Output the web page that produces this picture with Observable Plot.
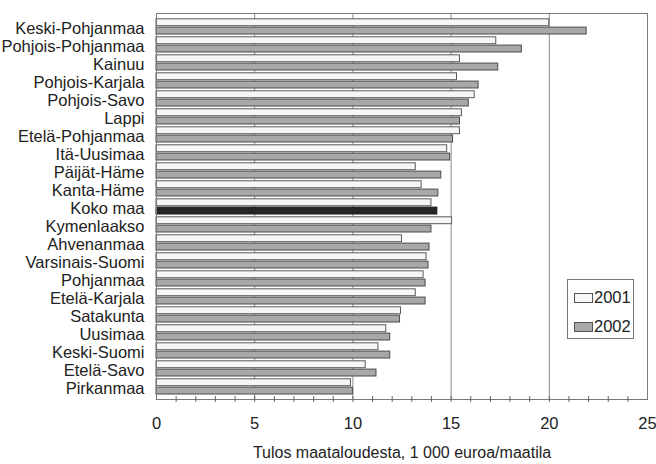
<!DOCTYPE html>
<html>
<head>
<meta charset="utf-8">
<script src="https://cdn.jsdelivr.net/npm/d3@7"></script>
<script src="https://cdn.jsdelivr.net/npm/@observablehq/plot@0.6"></script>
<style>
  html, body { margin: 0; padding: 0; background: #fff; }
  #wrap { position: relative; width: 656px; height: 464px; font-family: "Liberation Sans", Arial, sans-serif; }
  #legend { position: absolute; left: 567px; top: 279px; width: 67px; height: 60px; border: 1px solid #777; background: #fff; box-sizing: border-box; font-size: 16.5px; color: #222; }
  #legend .row { position: absolute; left: 6px; display: flex; align-items: center; }
  #legend .sw { width: 19px; height: 10px; border: 1px solid #555; box-sizing: border-box; margin-right: 1px; }
</style>
</head>
<body>
<div id="wrap"></div>
<script>
const regions = ["Keski-Pohjanmaa","Pohjois-Pohjanmaa","Kainuu","Pohjois-Karjala","Pohjois-Savo","Lappi","Etelä-Pohjanmaa","Itä-Uusimaa","Päijät-Häme","Kanta-Häme","Koko maa","Kymenlaakso","Ahvenanmaa","Varsinais-Suomi","Pohjanmaa","Etelä-Karjala","Satakunta","Uusimaa","Keski-Suomi","Etelä-Savo","Pirkanmaa"];
const v2001 = [20.0,17.3,15.45,15.3,16.2,15.55,15.45,14.8,13.2,13.5,14.0,15.05,12.5,13.75,13.6,13.2,12.45,11.7,11.3,10.65,9.9];
const v2002 = [21.9,18.6,17.4,16.4,15.9,15.45,15.1,14.95,14.5,14.35,14.3,14.0,13.9,13.85,13.7,13.7,12.4,11.9,11.9,11.2,10.0];
const xTicks = [0,5,10,15,20,25];
const gridTicks = [5,10,15,20];
const minorTicks = d3.range(1,25);
const years = ["2001","2002"];
const total = "Koko maa";
const xLabel = "Tulos maataloudesta, 1 000 euroa/maatila";

const rows2001 = regions.map((r,i) => ({region: r, value: v2001[i]}));
const rows2002 = regions.map((r,i) => ({region: r, value: v2002[i]}));

const H = 464, mTop = 13, mBottom = 65;
const plotH = H - mTop - mBottom;

const chart = Plot.plot({
  width: 656,
  height: H,
  marginTop: mTop,
  marginBottom: mBottom,
  marginLeft: 156,
  marginRight: 9,
  style: {fontFamily: "Liberation Sans, Arial, sans-serif", fontSize: "16px", color: "#222", background: "#fff"},
  x: {domain: [0,25]},
  y: {domain: regions, padding: 0},
  marks: [
    Plot.ruleX(gridTicks, {stroke: "#8a8a8a", strokeWidth: 1}),
    Plot.barX(rows2001, {y: "region", x: "value", insetTop: 1.8, insetBottom: 9.3, fill: "#f6f6f6", stroke: "#5a5a5a", strokeWidth: 1}),
    Plot.barX(rows2002.filter(d => d.region !== total), {y: "region", x: "value", insetTop: 10.1, insetBottom: 1, fill: "#a8a8a8", stroke: "#4a4a4a", strokeWidth: 1}),
    Plot.barX(rows2002.filter(d => d.region === total), {y: "region", x: "value", insetTop: 10.1, insetBottom: 1, fill: "#262626", stroke: "#1a1a1a", strokeWidth: 1}),
    Plot.frame({stroke: "#7a7a7a"}),
    Plot.ruleX(minorTicks, {stroke: "#666", insetTop: plotH - 3, insetBottom: -3}),
    Plot.axisY({tickSize: 0, tickPadding: 12, fontSize: 16.5, dy: 2, label: null}),
    Plot.axisX({ticks: xTicks, tickSize: 0, tickPadding: 18, fontSize: 16.5, label: null}),
    Plot.text([xLabel], {frameAnchor: "bottom", dy: 58, fontSize: 16, fill: "#222"})
  ]
});
const wrap = document.getElementById("wrap");
wrap.appendChild(chart);

const legend = document.createElement("div");
legend.id = "legend";
legend.innerHTML = `
  <div class="row" style="top:8px"><span class="sw" style="background:#f6f6f6"></span>${years[0]}</div>
  <div class="row" style="top:37px"><span class="sw" style="background:#a8a8a8"></span>${years[1]}</div>`;
wrap.appendChild(legend);
</script>
</body>
</html>
